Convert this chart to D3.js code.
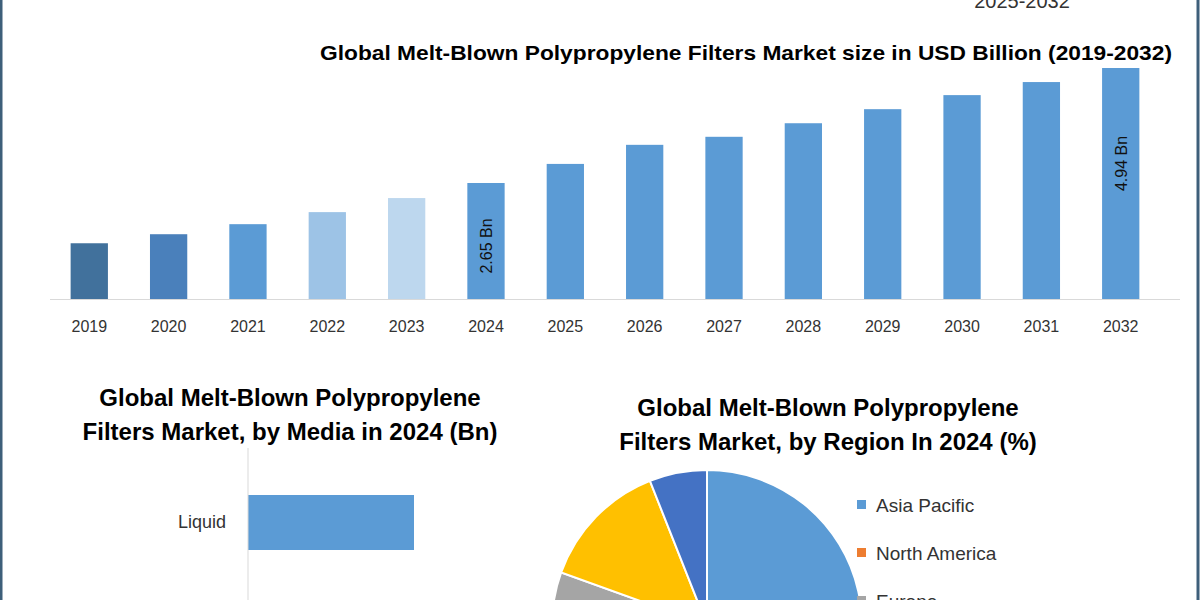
<!DOCTYPE html>
<html><head><meta charset="utf-8">
<script src="https://cdn.jsdelivr.net/npm/d3@7"></script>
<style>body{margin:0;background:#fff}svg{display:block}text{font-family:"Liberation Sans",sans-serif}</style>
</head><body><svg id="c" width="1200" height="600"></svg>
<script>
const years=["2019","2020","2021","2022","2023","2024","2025","2026","2027","2028","2029","2030","2031","2032"];
const sizes=[1.45,1.63,1.83,2.07,2.35,2.65,3.03,3.41,3.57,3.84,4.12,4.40,4.66,4.94];
const barColors=["#41719c","#4a80bb","#5b9bd5","#9dc3e6","#bdd7ee","#5b9bd5","#5b9bd5","#5b9bd5","#5b9bd5","#5b9bd5","#5b9bd5","#5b9bd5","#5b9bd5","#5b9bd5"];
const labelled={"2024":"2.65 Bn","2032":"4.94 Bn"};
const mediaCats=["Liquid","Air"];
const mediaVals=[1.6,1.05];
const regions=["Asia Pacific","North America","Europe","Middle East and Africa","South America"];
const regionVals=[43,25,12.5,13.5,6];
const regionColors=["#5b9bd5","#ed7d31","#a5a5a5","#ffc000","#4472c4"];

const svg=d3.select("#c");
svg.append("rect").attr("x",1).attr("y",-5).attr("width",1197).attr("height",620).attr("fill","none").attr("stroke","#3e5f7a").attr("stroke-width",3);
svg.append("text").attr("x",1022).attr("y",8).attr("text-anchor","middle").attr("font-size",20).attr("fill","#333").text("2025-2032");
svg.append("text").attr("x",1172).attr("y",60).attr("text-anchor","end").attr("font-size",21).attr("font-weight","bold").attr("textLength",852).attr("lengthAdjust","spacingAndGlyphs").text("Global Melt-Blown Polypropylene Filters Market size in USD Billion (2019-2032)");

const x=d3.scaleBand().domain(years).range([50,1160]).paddingInner(0.53).paddingOuter(0.26);
const y=d3.scaleLinear().domain([0.34,4.94]).range([299,68]);
svg.append("g").selectAll("rect").data(years).join("rect")
 .attr("x",d=>x(d)).attr("width",x.bandwidth()).attr("y",(d,i)=>y(sizes[i])).attr("height",(d,i)=>299-y(sizes[i])).attr("fill",(d,i)=>barColors[i]);
svg.append("line").attr("x1",50).attr("x2",1180).attr("y1",299.5).attr("y2",299.5).attr("stroke","#d9d9d9");
const xa=svg.append("g").attr("transform","translate(0,299)").call(d3.axisBottom(x).tickSize(0).tickPadding(22));
xa.select(".domain").remove();
xa.selectAll("text").attr("fill","#333").attr("font-size",16);
years.forEach((yr,i)=>{ if(labelled[yr]){ const cx=x(yr)+x.bandwidth()/2; const cy=(y(sizes[i])+299)/2+ (yr==="2032"?-20:5);
 svg.append("text").attr("transform",`translate(${cx+6},${cy}) rotate(-90)`).attr("text-anchor","middle").attr("font-size",16).attr("fill","#111").text(labelled[yr]);}});

const t1=svg.append("text").attr("text-anchor","middle").attr("font-size",24).attr("font-weight","bold");
t1.append("tspan").attr("x",290).attr("y",406).text("Global Melt-Blown Polypropylene");
t1.append("tspan").attr("x",290).attr("y",440).text("Filters Market, by Media in 2024 (Bn)");
const yb=d3.scaleBand().domain(mediaCats).range([451,704]).paddingInner(0.5).paddingOuter(0.4);
const xb=d3.scaleLinear().domain([0,1.6]).range([248,414]);
svg.append("g").selectAll("rect").data(mediaCats).join("rect").attr("x",248).attr("y",d=>yb(d)).attr("height",yb.bandwidth()).attr("width",(d,i)=>xb(mediaVals[i])-248).attr("fill","#5b9bd5");
const ya=svg.append("g").attr("transform","translate(248,0)").call(d3.axisLeft(yb).tickSize(0).tickPadding(22));
ya.select(".domain").attr("stroke","#d9d9d9").attr("d","M0,448V600");
ya.selectAll("text").attr("font-size",18).attr("fill","#333");

const t2=svg.append("text").attr("text-anchor","middle").attr("font-size",24).attr("font-weight","bold");
t2.append("tspan").attr("x",828).attr("y",416).text("Global Melt-Blown Polypropylene");
t2.append("tspan").attr("x",828).attr("y",450).text("Filters Market, by Region In 2024 (%)");
const pie=d3.pie().sort(null).value(d=>d)(regionVals);
const arc=d3.arc().innerRadius(0).outerRadius(155);
svg.append("g").attr("transform","translate(707,625)").selectAll("path").data(pie).join("path").attr("d",arc).attr("fill",(d,i)=>regionColors[i]).attr("stroke","#fff").attr("stroke-width",2);
const lg=svg.append("g").selectAll("g").data(regions).join("g").attr("transform",(d,i)=>`translate(862,${505+i*48})`);
lg.append("rect").attr("x",-5).attr("y",-5).attr("width",9).attr("height",9).attr("fill",(d,i)=>regionColors[i]);
lg.append("text").attr("x",14).attr("y",7).attr("font-size",19).attr("fill","#333").text(d=>d);
</script></body></html>
